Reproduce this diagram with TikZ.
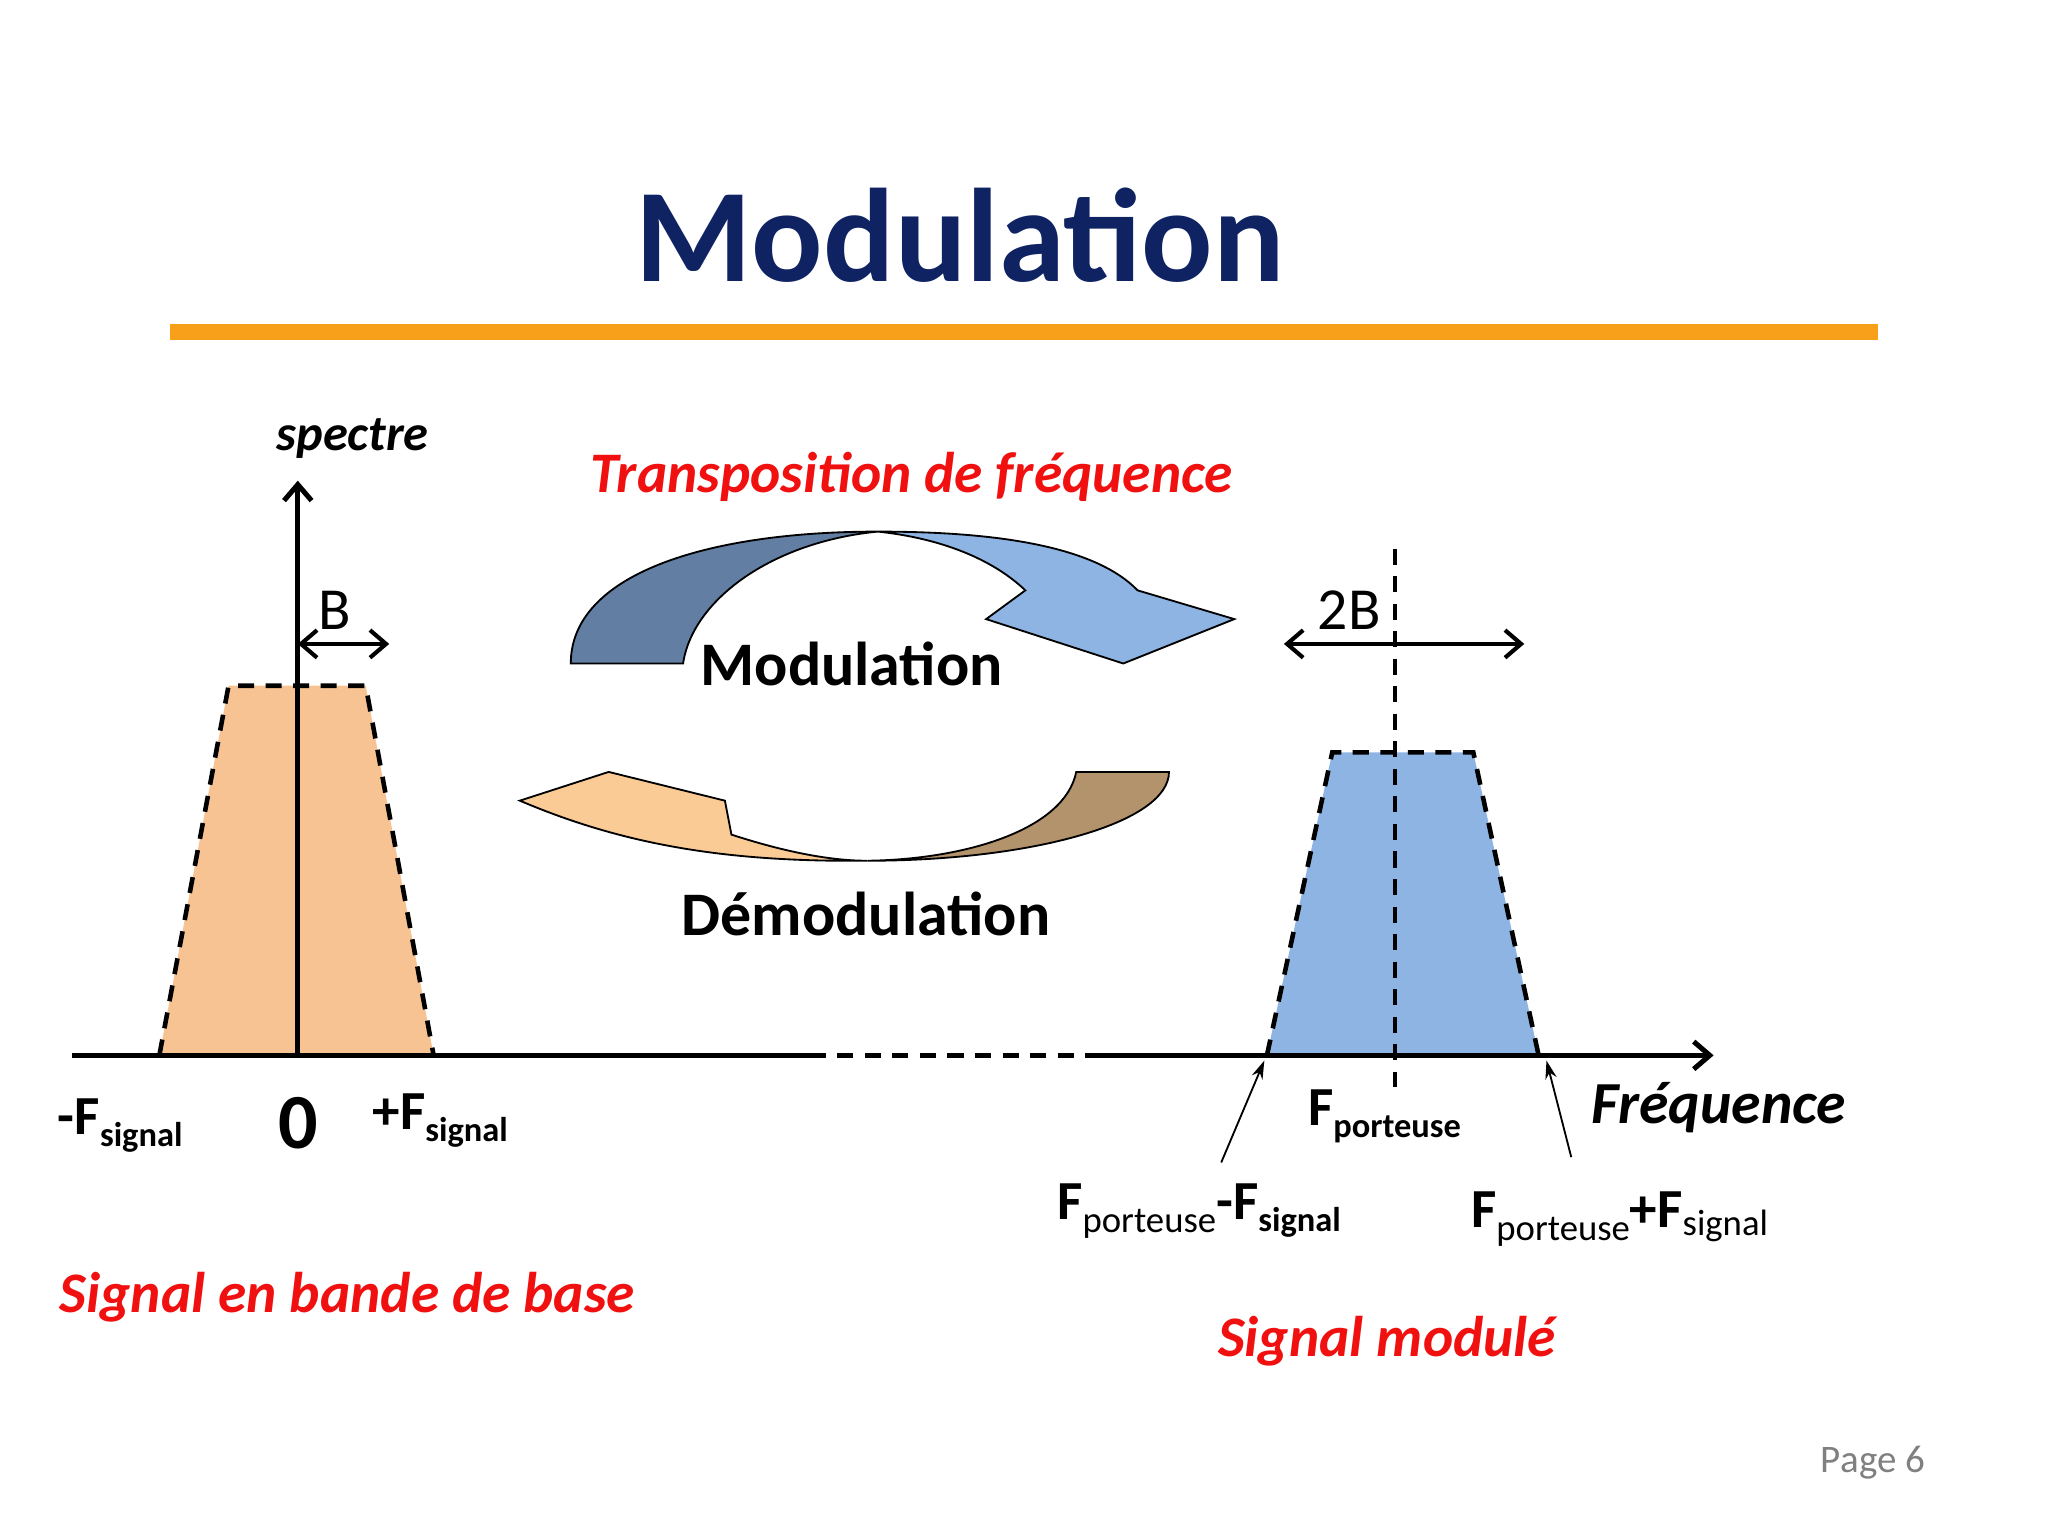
\documentclass[tikz,border=0pt]{standalone}
\usepackage{fontspec}
\setmainfont{Carlito}
\usetikzlibrary{arrows.meta}
\definecolor{navy}{HTML}{0F2262}
\definecolor{orangeline}{HTML}{F9A01B}
\definecolor{redtxt}{HTML}{F01010}
\definecolor{orfill}{HTML}{F8C393}
\definecolor{blfill}{HTML}{8DB4E2}
\definecolor{dkblue}{HTML}{627FA3}
\definecolor{brownf}{HTML}{B3936C}
\definecolor{ltor}{HTML}{FBCB96}
\newcommand{\fsz}[1]{\fontsize{#1}{#1}\selectfont}
\newcommand{\lsub}[1]{\raisebox{-0.45ex}{\fsz{15}#1}}
\tikzset{
  redlab/.style={text=redtxt,font=\fsz{25}\bfseries\itshape},
  blacklab/.style={font=\fsz{27}\bfseries},
  flab/.style={font=\fsz{24}\bfseries},
  axisline/.style={line width=2.2pt},
  dashline/.style={line width=2pt,dash pattern=on 7pt off 5pt},
  openarrow/.style={-{Straight Barb[length=7pt,width=12pt]}},
  smallarrow/.style={line width=0.8pt,-{Stealth[length=8pt,width=5pt]}},
  curvarrow/.style={draw=black,line width=0.8pt}
}
\begin{document}
\begin{tikzpicture}[x=0.02cm,y=-0.02cm]
\useasboundingbox (0,0) rectangle (1568,1176);
% title
\node[text=navy,font=\fsz{58}\bfseries] (title) at (735,180) {Modulation};
\fill[orangeline] (130,248) rectangle (1438,260);
% curved arrows
\filldraw[fill=blfill,curvarrow] (672,407) .. controls (770,407) and (840,420) .. (871,452) -- (945,474) -- (860,508) -- (755,474) -- (785,452) .. controls (760,428) and (720,412) .. (672,407) -- cycle;
\filldraw[fill=dkblue,curvarrow] (437,508) .. controls (437,440) and (540,407) .. (672,407) .. controls (590,415) and (530,460) .. (523,508) -- cycle;
\filldraw[fill=brownf,curvarrow] (824,591) .. controls (815,635) and (740,658) .. (664,659) .. controls (790,659) and (895,630) .. (895,591) -- cycle;
\filldraw[fill=ltor,curvarrow] (398,613) -- (466,591) -- (555,613) -- (560,639) .. controls (600,652) and (635,659) .. (664,659) .. controls (560,660) and (480,648) .. (398,613) -- cycle;
\node[blacklab] (mod) at (652,508) {Modulation};
\node[blacklab] (demod) at (663,700) {Démodulation};
\node[redlab] (transp) at (698,365) {Transposition de fréquence};
% trapezoids
\fill[orfill] (122,808) -- (175,525) -- (280,525) -- (332,808) -- cycle;
\draw[dashline] (122,808) -- (175,525) -- (280,525) -- (332,808);
\fill[blfill] (970,808) -- (1020,576) -- (1128,576) -- (1178,808) -- cycle;
\draw[dashline] (970,808) -- (1020,576) -- (1128,576) -- (1178,808);
\draw[dashline] (1068,420) -- (1068,832);
% axes
\coordinate (ax0) at (55,808);
\coordinate (ax1) at (620,808);
\coordinate (ax2) at (840,808);
\coordinate (ax3) at (1312,808);
\draw[axisline] (ax0) -- (ax1);
\draw[dashline] (ax1) -- (ax2);
\draw[axisline,openarrow] (ax2) -- (ax3);
\coordinate (vy0) at (228,808);
\coordinate (vy1) at (228,368);
\draw[axisline,openarrow] (vy0) -- (vy1);
\node[font=\fsz{22}\bfseries\itshape] (spectre) at (270,336) {spectre};
% B arrows
\coordinate (b0) at (228,493); \coordinate (b1) at (298,493);
\draw[line width=1.8pt,{Straight Barb[length=7pt,width=12pt]}-{Straight Barb[length=7pt,width=12pt]}] (b0) -- (b1);
\node[font=\fsz{26}] (B) at (256,467) {B};
\coordinate (c0) at (983,493); \coordinate (c1) at (1167,493);
\draw[line width=1.8pt,{Straight Barb[length=7pt,width=12pt]}-{Straight Barb[length=7pt,width=12pt]}] (c0) -- (c1);
\node[font=\fsz{26}] (B2) at (1033,467) {2B};
% axis labels
\node[flab] (mfs) at (92,862) {-F\lsub{signal}};
\node[font=\fsz{34}\bfseries] (zero) at (228,860) {0};
\node[flab] (pfs) at (337,858) {+F\lsub{signal}};
\node[flab] (fp) at (1060,855) {F\lsub{porteuse}};
\node[font=\fsz{26}\bfseries\itshape] (freq) at (1316,848) {Fréquence};
\node[flab,anchor=north] (fmin) at (918,900) {F\raisebox{-0.5ex}{\fsz{16}\mdseries porteuse}-F\lsub{signal}};
\node[flab,anchor=north] (fmax) at (1240,906) {F\raisebox{-0.5ex}{\fsz{16}\mdseries porteuse}+F\raisebox{-0.3ex}{\fsz{16}\mdseries signal}};
\coordinate (t1) at (968,812); \coordinate (t2) at (1184,812);
\coordinate (s1) at (935,890); \coordinate (s2) at (1203,886);
\draw[smallarrow] (s1) -- (t1);
\draw[smallarrow] (s2) -- (t2);
% red labels
\node[redlab] (bb) at (266,993) {Signal en bande de base};
\node[redlab] (sm) at (1062,1027) {Signal modulé};
\node[text=gray,font=\fsz{17}] (page) at (1434,1120) {Page 6};
\end{tikzpicture}
\end{document}
